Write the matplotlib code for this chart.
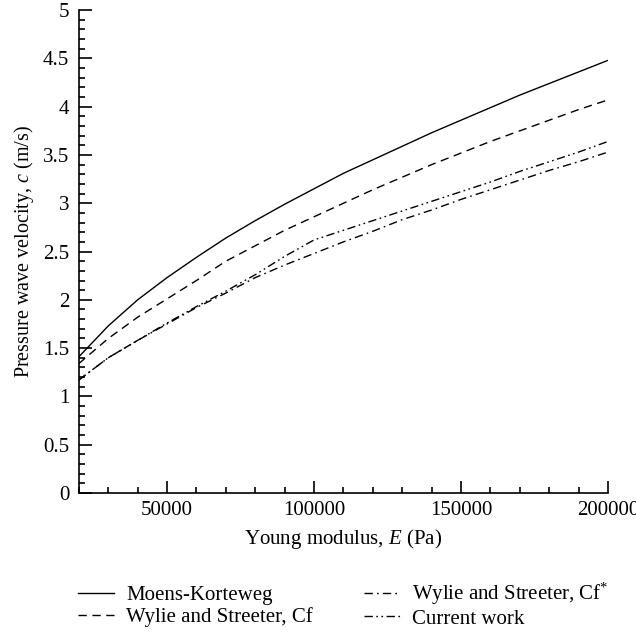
"""Pressure wave velocity vs Young modulus"""
import matplotlib
matplotlib.use("Agg")
import matplotlib.pyplot as plt
from matplotlib.ticker import MultipleLocator, FormatStrFormatter

plt.rcParams['font.family'] = ['Liberation Serif', 'DejaVu Serif']
plt.rcParams['mathtext.fontset'] = 'custom'
plt.rcParams['mathtext.it'] = 'Liberation Serif:italic'
plt.rcParams['mathtext.rm'] = 'Liberation Serif'

E = [20000, 30000, 40000, 50000, 60000, 70000, 80000, 90000, 100000, 110000,
     120000, 130000, 140000, 150000, 160000, 170000, 180000, 190000, 200000]
moens = [1.41, 1.73, 2.00, 2.23, 2.44, 2.64, 2.82, 2.99, 3.15, 3.31,
         3.45, 3.59, 3.73, 3.86, 3.99, 4.12, 4.24, 4.36, 4.48]
wylie_cf = [1.34, 1.60, 1.82, 2.01, 2.20, 2.40, 2.56, 2.72, 2.86, 3.00,
            3.14, 3.27, 3.40, 3.52, 3.64, 3.75, 3.86, 3.97, 4.07]
wylie_cf_star = [1.17, 1.40, 1.58, 1.75, 1.92, 2.07, 2.23, 2.36, 2.48, 2.60,
                 2.71, 2.83, 2.93, 3.04, 3.14, 3.24, 3.34, 3.43, 3.53]
current = [1.17, 1.40, 1.58, 1.76, 1.93, 2.09, 2.26, 2.45, 2.62, 2.72,
           2.82, 2.92, 3.02, 3.12, 3.22, 3.33, 3.43, 3.53, 3.64]

fig = plt.figure(figsize=(6.36, 6.32), dpi=100)
ax = fig.add_axes([0.124, 0.22, 0.832, 0.764])

lw = 1.0
ax.plot(E, moens, color='black', lw=lw, ls='-', label='Moens-Korteweg')
ax.plot(E, wylie_cf, color='black', lw=lw, ls=(0, (6, 4)), label='Wylie and Streeter, Cf')
ax.plot(E, wylie_cf_star, color='black', lw=lw, ls=(0, (6, 3, 1.2, 3)),
        label='Wylie and Streeter, Cf$^{*}$')
ax.plot(E, current, color='black', lw=lw, ls=(0, (6, 2.5, 1.2, 2.5, 1.2, 2.5)),
        label='Current work')

ax.set_xlim(20000, 200000)
ax.set_ylim(0, 5)
ax.xaxis.set_major_locator(MultipleLocator(50000))
ax.xaxis.set_minor_locator(MultipleLocator(10000))
ax.yaxis.set_major_locator(MultipleLocator(0.5))
ax.yaxis.set_minor_locator(MultipleLocator(0.1))
ax.xaxis.set_major_formatter(FormatStrFormatter('%d'))
ax.yaxis.set_major_formatter(FormatStrFormatter('%g'))

for s in ['top', 'right']:
    ax.spines[s].set_visible(False)
for s in ['left', 'bottom']:
    ax.spines[s].set_linewidth(1.2)
ax.tick_params(which='both', direction='in', labelsize=15, width=1.2)
ax.tick_params(which='major', length=9)
ax.tick_params(which='minor', length=4.5)
ax.tick_params(axis='x', pad=6)
ax.tick_params(axis='y', pad=7)

ax.set_xlabel('Young modulus, $E$ (Pa)', fontsize=15, labelpad=5)
ax.set_ylabel('Pressure wave velocity, $c$ (m/s)', fontsize=14.5, labelpad=5)

fig.legend(loc='upper left', bbox_to_anchor=(0.1226, 0.081), ncol=2, frameon=False,
           fontsize=15, handlelength=1.75, handletextpad=0.55, columnspacing=2.45,
           labelspacing=0.1, borderpad=0, borderaxespad=0)

fig.savefig('out.png', dpi=100)
